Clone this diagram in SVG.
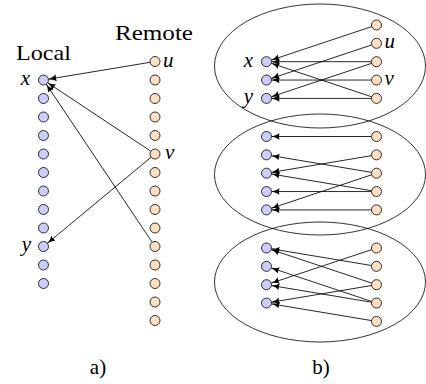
<svg xmlns="http://www.w3.org/2000/svg" width="426" height="384" viewBox="0 0 426 384">
<style>
.l{fill:#ccccff;stroke:#000;stroke-width:0.8}
.r{fill:#ffdfbf;stroke:#000;stroke-width:0.8}
.e{fill:none;stroke:#000;stroke-width:0.8}
.c path{fill:none;stroke:#000;stroke-width:0.85;marker-end:url(#ah)}
text{font-family:"Liberation Serif",serif;font-size:21px;fill:#000}
.i{font-style:italic}
</style>
<defs>
<marker id="ah" markerUnits="userSpaceOnUse" markerWidth="10" markerHeight="8" refX="8" refY="3.3" orient="auto">
<path d="M0,0 Q3.5,2.6 8,3.3 Q3.5,4 0,6.6 Q1.2,3.3 0,0 z" fill="#000"/>
</marker>
</defs>
<rect width="426" height="384" fill="#fff"/>
<g id="panel-a-labels">
<text x="43.5" y="59.5" text-anchor="middle" textLength="55" lengthAdjust="spacingAndGlyphs">Local</text>
<text x="154" y="40" text-anchor="middle" textLength="78" lengthAdjust="spacingAndGlyphs">Remote</text>
<text x="30" y="85" text-anchor="end" class="i">x</text>
<text x="31" y="251" text-anchor="end" class="i">y</text>
<text x="163" y="66.5" class="i">u</text>
<text x="165" y="159" class="i">v</text>
<text x="98" y="374" text-anchor="middle">a)</text>
</g>
<g id="connectors-a" class="c">
<path d="M150.07,62.32 L48.43,79.18"/>
<path d="M150.83,151.23 L47.67,82.77"/>
<path d="M152.22,242.35 L46.28,84.15"/>
<path d="M151.15,157.19 L47.35,243.31"/>
</g>
<g id="local-a">
<circle class="l" cx="43.5" cy="80" r="5"/>
<circle class="l" cx="43.5" cy="98.5" r="5"/>
<circle class="l" cx="43.5" cy="117" r="5"/>
<circle class="l" cx="43.5" cy="135.5" r="5"/>
<circle class="l" cx="43.5" cy="154" r="5"/>
<circle class="l" cx="43.5" cy="172.5" r="5"/>
<circle class="l" cx="43.5" cy="191" r="5"/>
<circle class="l" cx="43.5" cy="209.5" r="5"/>
<circle class="l" cx="43.5" cy="228" r="5"/>
<circle class="l" cx="43.5" cy="246.5" r="5"/>
<circle class="l" cx="43.5" cy="265" r="5"/>
<circle class="l" cx="43.5" cy="283.5" r="5"/>
</g>
<g id="remote-a">
<circle class="r" cx="155" cy="61.5" r="5"/>
<circle class="r" cx="155" cy="80" r="5"/>
<circle class="r" cx="155" cy="98.5" r="5"/>
<circle class="r" cx="155" cy="117" r="5"/>
<circle class="r" cx="155" cy="135.5" r="5"/>
<circle class="r" cx="155" cy="154" r="5"/>
<circle class="r" cx="155" cy="172.5" r="5"/>
<circle class="r" cx="155" cy="191" r="5"/>
<circle class="r" cx="155" cy="209.5" r="5"/>
<circle class="r" cx="155" cy="228" r="5"/>
<circle class="r" cx="155" cy="246.5" r="5"/>
<circle class="r" cx="155" cy="265" r="5"/>
<circle class="r" cx="155" cy="283.5" r="5"/>
<circle class="r" cx="155" cy="302" r="5"/>
<circle class="r" cx="155" cy="320.5" r="5"/>
</g>
<g id="groups-b">
<ellipse class="e" cx="320" cy="66" rx="105.5" ry="62"/>
<ellipse class="e" cx="320" cy="174.5" rx="105.5" ry="60.5"/>
<ellipse class="e" cx="320" cy="282" rx="105.5" ry="60"/>
</g>
<g id="panel-b-labels">
<text x="253" y="66.5" text-anchor="end" class="i">x</text>
<text x="253" y="103" text-anchor="end" class="i">y</text>
<text x="384.5" y="48" class="i">u</text>
<text x="384.5" y="85" class="i">v</text>
<text x="321" y="374" text-anchor="middle">b)</text>
</g>
<g id="connectors-b" class="c">
<path d="M371.76,26.58 L271.24,60.12"/>
<path d="M371.76,44.93 L271.24,78.47"/>
<path d="M371.5,61.7 L271.5,61.7"/>
<path d="M371.76,63.28 L271.24,96.82"/>
<path d="M371.5,80.05 L271.5,80.05"/>
<path d="M371.76,96.82 L271.24,63.28"/>
<path d="M371.5,98.4 L271.5,98.4"/>
<path d="M371.5,136.5 L271.5,136.5"/>
<path d="M371.57,172.38 L271.43,155.67"/>
<path d="M371.57,155.67 L271.43,172.38"/>
<path d="M371.57,190.73 L271.43,174.02"/>
<path d="M371.5,191.55 L271.5,191.55"/>
<path d="M371.76,174.78 L271.24,208.32"/>
<path d="M371.5,209.9 L271.5,209.9"/>
<path d="M371.57,265.53 L271.43,248.82"/>
<path d="M371.76,283.12 L271.24,249.58"/>
<path d="M371.76,301.47 L271.24,267.93"/>
<path d="M371.76,249.58 L271.24,283.12"/>
<path d="M371.57,302.23 L271.43,285.52"/>
<path d="M371.57,285.52 L271.43,302.23"/>
<path d="M371.57,320.58 L271.43,303.87"/>
</g>
<g id="local-b">
<circle class="l" cx="266.5" cy="61.7" r="5"/>
<circle class="l" cx="266.5" cy="80.05" r="5"/>
<circle class="l" cx="266.5" cy="98.4" r="5"/>
<circle class="l" cx="266.5" cy="136.5" r="5"/>
<circle class="l" cx="266.5" cy="154.85" r="5"/>
<circle class="l" cx="266.5" cy="173.2" r="5"/>
<circle class="l" cx="266.5" cy="191.55" r="5"/>
<circle class="l" cx="266.5" cy="209.9" r="5"/>
<circle class="l" cx="266.5" cy="248" r="5"/>
<circle class="l" cx="266.5" cy="266.35" r="5"/>
<circle class="l" cx="266.5" cy="284.7" r="5"/>
<circle class="l" cx="266.5" cy="303.05" r="5"/>
</g>
<g id="remote-b">
<circle class="r" cx="376.5" cy="25" r="5"/>
<circle class="r" cx="376.5" cy="43.35" r="5"/>
<circle class="r" cx="376.5" cy="61.7" r="5"/>
<circle class="r" cx="376.5" cy="80.05" r="5"/>
<circle class="r" cx="376.5" cy="98.4" r="5"/>
<circle class="r" cx="376.5" cy="136.5" r="5"/>
<circle class="r" cx="376.5" cy="154.85" r="5"/>
<circle class="r" cx="376.5" cy="173.2" r="5"/>
<circle class="r" cx="376.5" cy="191.55" r="5"/>
<circle class="r" cx="376.5" cy="209.9" r="5"/>
<circle class="r" cx="376.5" cy="248" r="5"/>
<circle class="r" cx="376.5" cy="266.35" r="5"/>
<circle class="r" cx="376.5" cy="284.7" r="5"/>
<circle class="r" cx="376.5" cy="303.05" r="5"/>
<circle class="r" cx="376.5" cy="321.4" r="5"/>
</g>
</svg>
